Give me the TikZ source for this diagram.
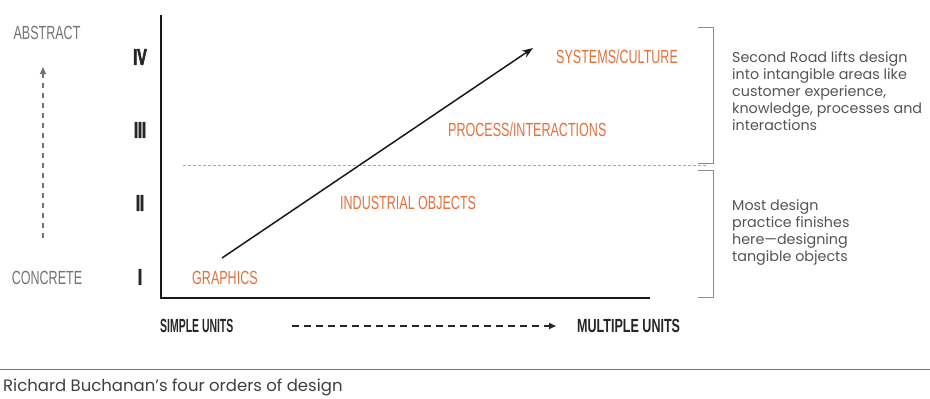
\documentclass[tikz,border=0pt]{standalone}
\usepackage{fontspec}
\setmainfont{Poppins}
\newfontfamily\condf[FakeStretch=0.66]{Liberation Sans}
\newfontfamily\condb[FakeStretch=0.55, UprightFont=* Bold]{Liberation Sans}
\newfontfamily\condr[FakeStretch=0.62, FakeBold=2.5, UprightFont=* Bold]{Liberation Sans}
\newfontfamily\condm[FakeStretch=0.66, UprightFont=* Bold]{Liberation Sans}
\usetikzlibrary{arrows.meta}
\definecolor{orng}{RGB}{228,112,58}
\definecolor{gtxt}{RGB}{85,85,85}
\definecolor{glab}{RGB}{115,115,115}
\tikzset{
  lvl/.style={font=\condf\fontsize{19}{19}\selectfont, text=orng, inner sep=0pt, anchor=west},
  roman/.style={font=\condr\fontsize{23}{23}\selectfont, text=black!85, inner sep=0pt},
  sidelab/.style={font=\condf\fontsize{19}{19}\selectfont, text=glab, inner sep=0pt},
  unitlab/.style={font=\condb\fontsize{19}{19}\selectfont, text=black!85, inner sep=0pt, anchor=west},
  note/.style={font=\fontsize{14.3}{17}\selectfont, text=gtxt, inner sep=0pt, anchor=north west, align=left},
  axis/.style={line width=2.6pt, black!90},
  brk/.style={line width=0.8pt, black!45},
}
\begin{document}
\begin{tikzpicture}[x=1pt,y=-1pt]
\useasboundingbox (0,0) rectangle (930,399);
\fill[white] (0,0) rectangle (930,399);

% axes
\coordinate (otop) at (161,15);
\coordinate (orig) at (161,298);
\coordinate (xend) at (650,298);
\draw[axis] (otop) -- (orig) -- (xend);

% separator
\coordinate (sepL) at (183,165);
\coordinate (sepR) at (707,165);
\draw[black!35, line width=0.7pt, dash pattern=on 3pt off 2pt] (sepL) -- (sepR);

% side labels
\node[sidelab] (abs) at (47,33) {ABSTRACT};
\node[sidelab] (con) at (47,278) {CONCRETE};
\coordinate (upA) at (43,238);
\coordinate (upB) at (43,67);
\draw[glab, line width=1.1pt, dash pattern=on 5pt off 5pt, -{Triangle[length=7pt,width=6pt]}] (upA) -- (upB);

% roman numerals
\node[roman] (r4) at (140,57) {IV};
\node[roman] (r3) at (140,130) {III};
\node[roman] (r2) at (140,203) {II};
\node[roman] (r1) at (140,277) {I};

% levels
\node[lvl] (g) at (192,278) {GRAPHICS};
\node[lvl] (io) at (340,203) {INDUSTRIAL OBJECTS};
\node[lvl] (pi) at (448,130) {PROCESS/INTERACTIONS};
\node[lvl] (sc) at (556,57) {SYSTEMS/CULTURE};

% main arrow
\coordinate (aS) at (222,258);
\coordinate (aE) at (533,48);
\draw[line width=1.5pt, black!90, -{Stealth[length=11pt,width=8pt]}] (aS) -- (aE);

% units
\node[unitlab] (su) at (160,326) {SIMPLE UNITS};
\node[unitlab, font=\condm\fontsize{19}{19}\selectfont] (mu) at (577,326) {MULTIPLE UNITS};
\coordinate (hA) at (292,326);
\coordinate (hB) at (556,326);
\draw[black!85, line width=1.6pt, dash pattern=on 7pt off 5pt, -{Triangle[length=7pt,width=6pt]}] (hA) -- (hB);

% brackets
\draw[brk] (698,27) -- (713,27) -- (713,163) -- (698,163);
\draw[brk] (698,170) -- (713,170) -- (713,297) -- (698,297);

% notes
\node[note] (n1) at (732,51) {Second Road lifts design\\into intangible areas like\\customer experience,\\knowledge, processes and\\interactions};
\node[note] (n2) at (732,199) {Most design\\practice finishes\\here---designing\\tangible objects};

% caption
\coordinate (rl) at (0,369);
\coordinate (rr) at (930,369);
\draw[black!55, line width=1pt] (rl) -- (rr);
\node[font=\fontsize{16.5}{16.5}\selectfont, text=black!75, inner sep=0pt, anchor=west] (cap) at (3,387) {Richard Buchanan's four orders of design};
\end{tikzpicture}
\end{document}
